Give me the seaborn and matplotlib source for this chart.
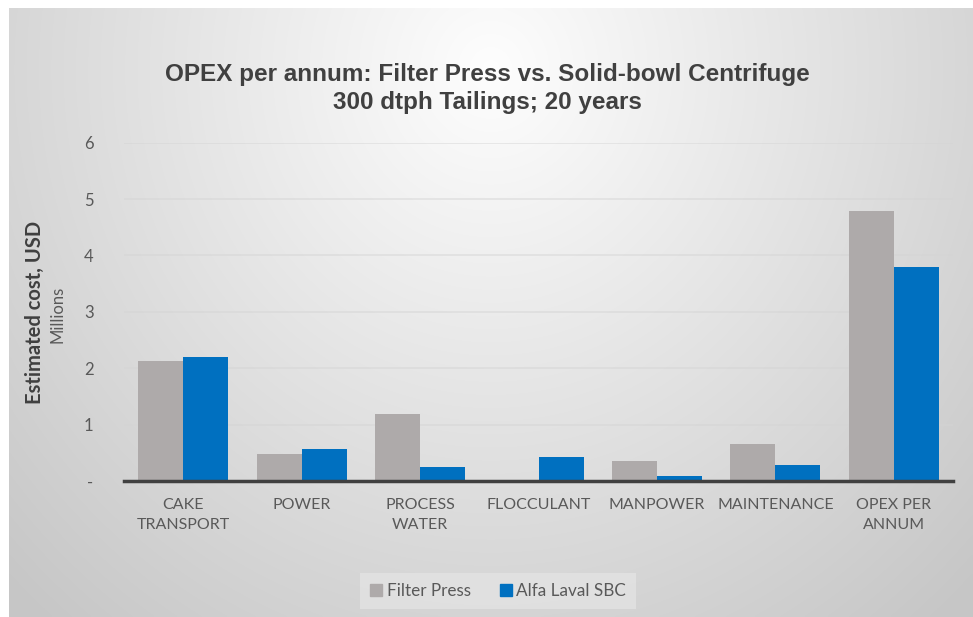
import numpy as np
import pandas as pd
import matplotlib
matplotlib.use("Agg")
import matplotlib.pyplot as plt
import seaborn as sns

categories = ["CAKE\nTRANSPORT", "POWER", "PROCESS\nWATER", "FLOCCULANT",
              "MANPOWER", "MAINTENANCE", "OPEX PER\nANNUM"]
filter_press = [2.13, 0.47, 1.18, 0.0, 0.355, 0.66, 4.78]
alfa_laval_sbc = [2.20, 0.56, 0.24, 0.42, 0.083, 0.29, 3.80]
series_names = ["Filter Press", "Alfa Laval SBC"]
series_colors = ["#AEAAAA", "#0070C0"]
y_ticks = [0, 1, 2, 3, 4, 5, 6]
y_tick_labels = ["-", "1", "2", "3", "4", "5", "6"]

df = pd.DataFrame({
    "category": categories * 2,
    "value": filter_press + alfa_laval_sbc,
    "series": [series_names[0]] * len(categories) + [series_names[1]] * len(categories),
})

sns.set_theme(style="white")
plt.rcParams["font.family"] = ["Lato", "DejaVu Sans"]

W, H = 973, 617
fig = plt.figure(figsize=(W / 100, H / 100), dpi=100)
fig.patch.set_facecolor("white")

# radial grey gradient panel behind the chart
bg = fig.add_axes([9 / W, 0, 1 - 9 / W, 1 - 8 / H], zorder=-10)
gx = np.linspace(0, 1, 400)
gy = np.linspace(0, 1, 260)
X, Y = np.meshgrid(gx, gy)
r = np.sqrt(((X - 0.5) / 0.62) ** 2 + ((Y - 0.1) / 1.05) ** 2)
shade = 0.995 - 0.19 * np.clip(r, 0, 1.25)
shade = np.clip(shade, 0.78, 1.0)
bg.imshow(np.dstack([shade] * 3), aspect="auto", extent=[0, 1, 1, 0],
          interpolation="bilinear")
bg.set_axis_off()

ax = fig.add_axes([124 / W, 1 - 481 / H, (953 - 124) / W, (481 - 142.7) / H])
ax.patch.set_alpha(0)

sns.barplot(data=df, x="category", y="value", hue="series", order=categories,
            hue_order=series_names, palette=series_colors, width=0.76,
            saturation=1, linewidth=0, ax=ax, legend=False, zorder=3)

ax.set_ylim(0, 6)
ax.set_xlim(-0.5, len(categories) - 0.5)
ax.set_yticks(y_ticks)
ax.set_yticklabels(y_tick_labels, fontsize=12, color="#595959")
for y in y_ticks[1:]:
    ax.axhline(y, color="#d4d4d4", alpha=0.55, lw=1.2, zorder=1)
ax.tick_params(axis="y", length=0, pad=22)
ax.tick_params(axis="x", length=0, pad=12, labelsize=11.5, labelcolor="#595959")
for lbl in ax.get_xticklabels():
    lbl.set_linespacing(1.6)
ax.set_xlabel("")
ax.set_ylabel("")
for s in ["top", "right", "left"]:
    ax.spines[s].set_visible(False)
ax.spines["bottom"].set_color("#404040")
ax.spines["bottom"].set_linewidth(2.5)
ax.spines["bottom"].set_zorder(5)

title_font = ["Liberation Sans", "DejaVu Sans"]
fig.text(487 / W, 1 - 75 / H, "OPEX per annum: Filter Press vs. Solid-bowl Centrifuge",
         ha="center", va="center", fontsize=17.5, fontweight="bold",
         color="#404040", family=title_font)
fig.text(487 / W, 1 - 103 / H, "300 dtph Tailings; 20 years",
         ha="center", va="center", fontsize=17.5, fontweight="bold",
         color="#404040", family=title_font)

fig.text(35 / W, 1 - 312 / H, "Estimated cost, USD", rotation=90, ha="center",
         va="center", fontsize=14.5, fontweight="bold", color="#404040")
fig.text(58 / W, 1 - 314 / H, "Millions", rotation=90, ha="center",
         va="center", fontsize=12, color="#595959")

handles = [plt.Rectangle((0, 0), 1, 1, color=c) for c in series_colors]
leg = fig.legend(handles, series_names, loc="center",
                 bbox_to_anchor=(498 / W, 1 - 591 / H), ncol=2, frameon=True,
                 fontsize=12.3, handlelength=0.7, handleheight=0.7,
                 handletextpad=0.25, columnspacing=1.7, borderpad=0.6,
                 borderaxespad=0, fancybox=False)
leg.get_frame().set_facecolor("#E3E3E3")
leg.get_frame().set_edgecolor("none")
for t in leg.get_texts():
    t.set_color("#595959")

fig.savefig("out.png", dpi=100)
